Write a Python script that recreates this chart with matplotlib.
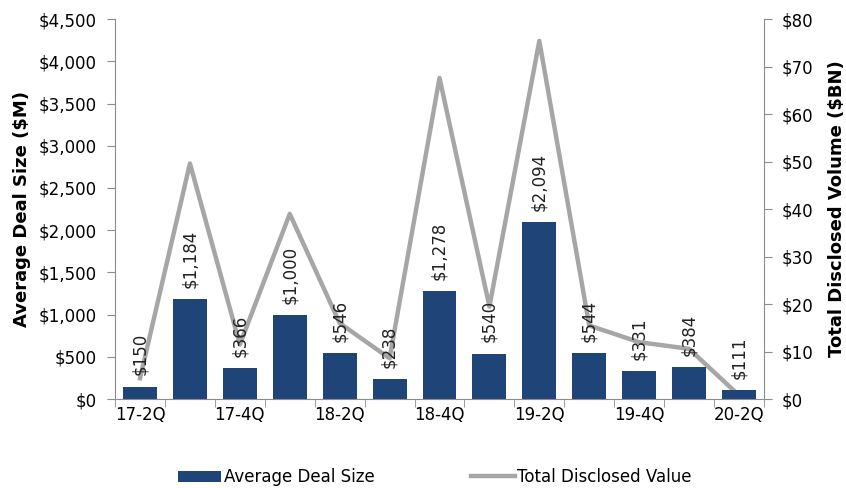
import matplotlib.pyplot as plt
import numpy as np
from matplotlib.ticker import FuncFormatter, FixedLocator

# Quarter labels and values
quarters = ['17-2Q', '17-3Q', '17-4Q', '18-1Q', '18-2Q', '18-3Q', '18-4Q',
            '19-1Q', '19-2Q', '19-3Q', '19-4Q', '20-1Q', '20-2Q']
avg_deal_size = [150, 1184, 366, 1000, 546, 238, 1278, 540, 2094, 544, 331, 384, 111]
total_value = [4.4, 49.6, 11.5, 39.0, 16.0, 8.6, 67.6, 19.5, 75.4, 15.5, 12.0, 10.6, 0.8]

bar_color = '#1F4478'
line_color = '#A6A6A6'
axis_color = '#8C8C8C'

plt.rcParams['font.family'] = ['DejaVu Sans']
plt.rcParams['font.size'] = 12

fig = plt.figure(figsize=(8.46, 4.88), dpi=100)
ax = fig.add_axes([0.136, 0.182, 0.767, 0.779])
ax2 = ax.twinx()

x = np.arange(len(quarters))
bars = ax.bar(x, avg_deal_size, width=0.68, color=bar_color, zorder=1,
              label='Average Deal Size')
line, = ax2.plot(x, total_value, color=line_color, lw=3.2, zorder=2,
                 label='Total Disclosed Value')

# put the line axis under the bar axis so labels stay readable
ax.set_zorder(2)
ax.patch.set_visible(False)
ax2.set_zorder(1)

for xi, v in zip(x, avg_deal_size):
    ax.annotate(f'${v:,}', (xi, v), xytext=(0, 8), textcoords='offset points',
                rotation=90, ha='center', va='bottom', fontsize=12, color='#222222')

ax.set_xlim(-0.5, len(quarters) - 0.5)
ax.set_ylim(0, 4500)
ax.set_yticks(np.arange(0, 4501, 500))
ax.yaxis.set_major_formatter(FuncFormatter(lambda v, p: f'${v:,.0f}'))
ax2.set_ylim(0, 80)
ax2.set_yticks(np.arange(0, 81, 10))
ax2.yaxis.set_major_formatter(FuncFormatter(lambda v, p: f'${v:.0f}'))

# category labels every other quarter, tick marks at category boundaries
ax.xaxis.set_major_locator(FixedLocator(x[::2]))
ax.set_xticklabels(quarters[::2])
ax.xaxis.set_minor_locator(FixedLocator(np.arange(-0.5, len(quarters), 1)))
ax.tick_params(axis='x', which='major', length=0, pad=5, labelsize=12)
ax.tick_params(axis='x', which='minor', length=6, color=axis_color)
ax.tick_params(axis='y', length=6, pad=7, color=axis_color, labelsize=12)
ax2.tick_params(axis='y', length=6, pad=7, color=axis_color, labelsize=12)
ax2.tick_params(axis='x', which='both', length=0)

for a in (ax, ax2):
    for s in a.spines.values():
        s.set_visible(False)
ax.spines['left'].set_visible(True)
ax.spines['left'].set_color(axis_color)
ax.spines['bottom'].set_visible(True)
ax.spines['bottom'].set_color(axis_color)
ax2.spines['right'].set_visible(True)
ax2.spines['right'].set_color(axis_color)

ax.set_ylabel('Average Deal Size ($M)', fontweight='bold', fontsize=13, labelpad=6)
ax2.set_ylabel('Total Disclosed Volume ($BN)', fontweight='bold', fontsize=13, labelpad=10)

fig.legend([bars, line], ['Average Deal Size', 'Total Disclosed Value'],
           loc='center', bbox_to_anchor=(0.514, 0.022), ncol=2, frameon=False,
           fontsize=12, handlelength=2.6, handletextpad=0.15, columnspacing=5.8)

fig.savefig('out.png', dpi=100)
